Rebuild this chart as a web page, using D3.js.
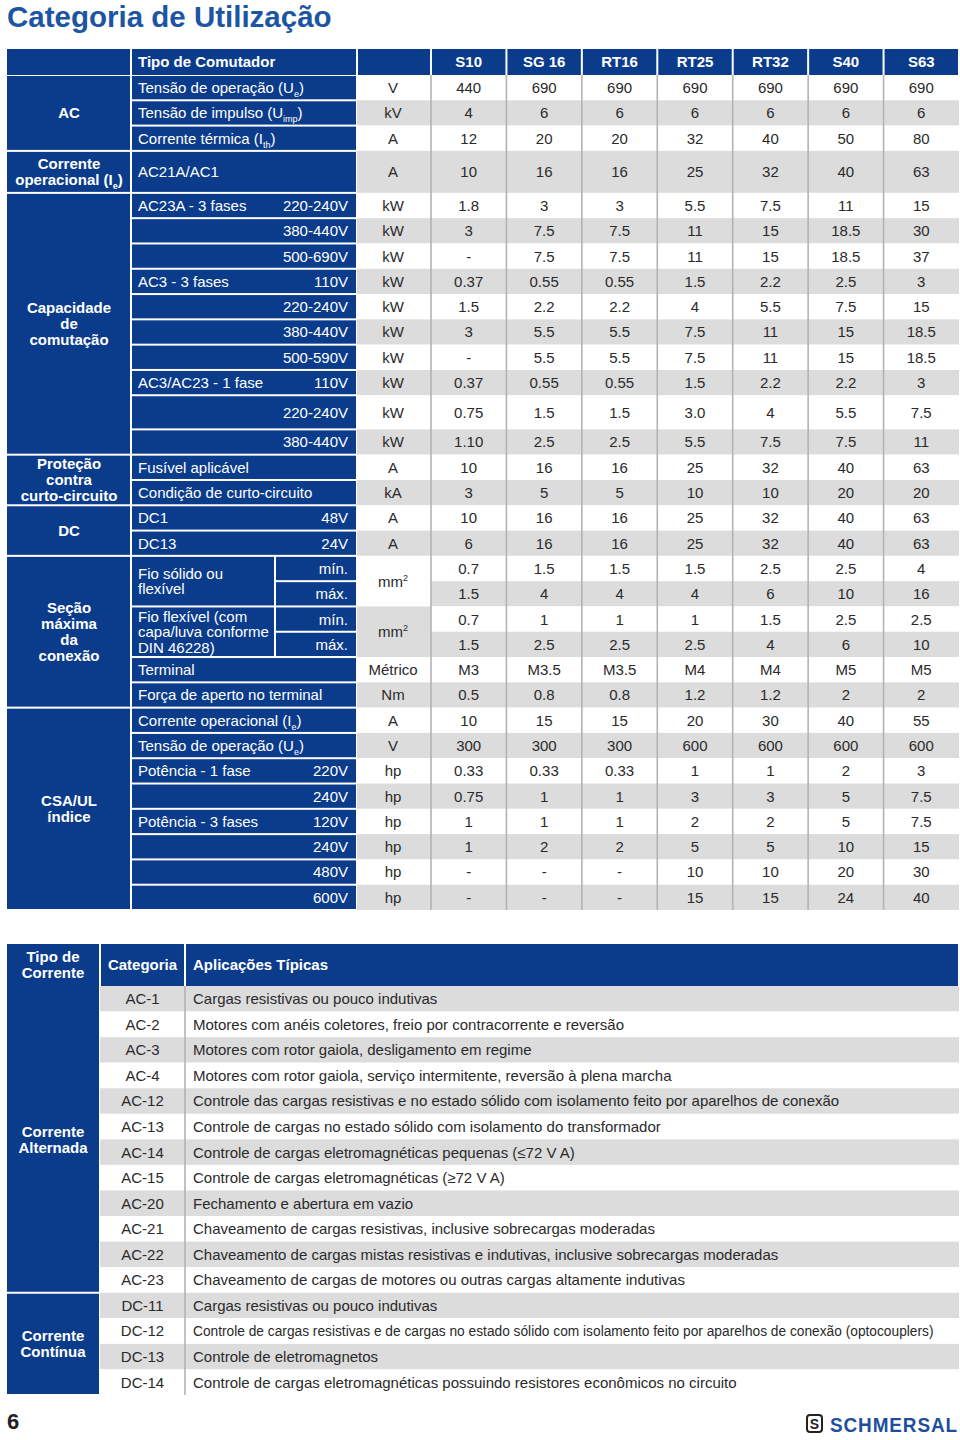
<!DOCTYPE html>
<html>
<head>
<meta charset="utf-8">
<script src="https://cdn.jsdelivr.net/npm/d3@7"></script>
<style>
  body { margin: 0; background: #fff; }
  svg { display: block; }
  text { font-family: "Liberation Sans", Arial, Helvetica, sans-serif; }
</style>
</head>
<body>
<div id="chart"></div>
<script>
// ---- data: top table ----
const switchTypes = ["S10", "SG 16", "RT16", "RT25", "RT32", "S40", "S63"];

const groupNames = ["AC", "Corrente|operacional (I_{e})", "Capacidade|de|comutação",
  "Proteção|contra|curto-circuito", "DC", "Seção|máxima|da|conexão", "CSA/UL|índice"];
const groupSizes = [3, 1, 10, 2, 2, 6, 8];

const specLabels = ["Tensão de operação (U_{e})", "Tensão de impulso (U_{imp})", "Corrente térmica (I_{th})",
  "AC21A/AC1", "AC23A - 3 fases", "", "", "AC3 - 3 fases", "", "", "", "AC3/AC23 - 1 fase", "", "",
  "Fusível aplicável", "Condição de curto-circuito", "DC1", "DC13",
  "Fio sólido ou|flexível", "", "Fio flexível (com|capa/luva conforme|DIN 46228)", "",
  "Terminal", "Força de aperto no terminal",
  "Corrente operacional (I_{e})", "Tensão de operação (U_{e})", "Potência - 1 fase", "",
  "Potência - 3 fases", "", "", ""];

const specSubLabels = ["", "", "", "", "220-240V", "380-440V", "500-690V", "110V", "220-240V", "380-440V",
  "500-590V", "110V", "220-240V", "380-440V", "", "", "48V", "24V", "mín.", "máx.", "mín.", "máx.",
  "", "", "", "", "220V", "240V", "120V", "240V", "480V", "600V"];

const specUnits = ["V", "kV", "A", "A", "kW", "kW", "kW", "kW", "kW", "kW", "kW", "kW", "kW", "kW",
  "A", "kA", "A", "A", "mm^{2}", "", "mm^{2}", "", "Métrico", "Nm", "A", "V",
  "hp", "hp", "hp", "hp", "hp", "hp"];

const specValues = [
  ["440", "690", "690", "690", "690", "690", "690"],
  ["4", "6", "6", "6", "6", "6", "6"],
  ["12", "20", "20", "32", "40", "50", "80"],
  ["10", "16", "16", "25", "32", "40", "63"],
  ["1.8", "3", "3", "5.5", "7.5", "11", "15"],
  ["3", "7.5", "7.5", "11", "15", "18.5", "30"],
  ["-", "7.5", "7.5", "11", "15", "18.5", "37"],
  ["0.37", "0.55", "0.55", "1.5", "2.2", "2.5", "3"],
  ["1.5", "2.2", "2.2", "4", "5.5", "7.5", "15"],
  ["3", "5.5", "5.5", "7.5", "11", "15", "18.5"],
  ["-", "5.5", "5.5", "7.5", "11", "15", "18.5"],
  ["0.37", "0.55", "0.55", "1.5", "2.2", "2.2", "3"],
  ["0.75", "1.5", "1.5", "3.0", "4", "5.5", "7.5"],
  ["1.10", "2.5", "2.5", "5.5", "7.5", "7.5", "11"],
  ["10", "16", "16", "25", "32", "40", "63"],
  ["3", "5", "5", "10", "10", "20", "20"],
  ["10", "16", "16", "25", "32", "40", "63"],
  ["6", "16", "16", "25", "32", "40", "63"],
  ["0.7", "1.5", "1.5", "1.5", "2.5", "2.5", "4"],
  ["1.5", "4", "4", "4", "6", "10", "16"],
  ["0.7", "1", "1", "1", "1.5", "2.5", "2.5"],
  ["1.5", "2.5", "2.5", "2.5", "4", "6", "10"],
  ["M3", "M3.5", "M3.5", "M4", "M4", "M5", "M5"],
  ["0.5", "0.8", "0.8", "1.2", "1.2", "2", "2"],
  ["10", "15", "15", "20", "30", "40", "55"],
  ["300", "300", "300", "600", "600", "600", "600"],
  ["0.33", "0.33", "0.33", "1", "1", "2", "3"],
  ["0.75", "1", "1", "3", "3", "5", "7.5"],
  ["1", "1", "1", "2", "2", "5", "7.5"],
  ["1", "2", "2", "5", "5", "10", "15"],
  ["-", "-", "-", "10", "10", "20", "30"],
  ["-", "-", "-", "15", "15", "24", "40"]
];

// ---- data: bottom table ----
const currentTypes = ["Corrente|Alternada", "Corrente|Contínua"];
const currentTypeSizes = [12, 4];
const categories = ["AC-1", "AC-2", "AC-3", "AC-4", "AC-12", "AC-13", "AC-14", "AC-15", "AC-20",
  "AC-21", "AC-22", "AC-23", "DC-11", "DC-12", "DC-13", "DC-14"];
const applications = [
  "Cargas resistivas ou pouco indutivas",
  "Motores com anéis coletores, freio por contracorrente e reversão",
  "Motores com rotor gaiola, desligamento em regime",
  "Motores com rotor gaiola, serviço intermitente, reversão à plena marcha",
  "Controle das cargas resistivas e no estado sólido com isolamento feito por aparelhos de conexão",
  "Controle de cargas no estado sólido com isolamento do transformador",
  "Controle de cargas eletromagnéticas pequenas (≤72 V A)",
  "Controle de cargas eletromagnéticas (≥72 V A)",
  "Fechamento e abertura em vazio",
  "Chaveamento de cargas resistivas, inclusive sobrecargas moderadas",
  "Chaveamento de cargas mistas resistivas e indutivas, inclusive sobrecargas moderadas",
  "Chaveamento de cargas de motores ou outras cargas altamente indutivas",
  "Cargas resistivas ou pouco indutivas",
  "Controle de cargas resistivas e de cargas no estado sólido com isolamento feito por aparelhos de conexão (optocouplers)",
  "Controle de eletromagnetos",
  "Controle de cargas eletromagnéticas possuindo resistores econômicos no circuito"
];

// ---- styles ----
const BLUE = "#0b3c8c", GRAY = "#dcdcdd", SEP = "#b3b3b3", INK = "#2a2a2a";
const FS = 15, BASE = FS * 0.36;

const svg = d3.select("#chart").append("svg")
  .attr("width", 960).attr("height", 1440);

// text with _{sub} and ^{sup} pieces
function rich(textSel, str) {
  const parts = str.split(/(_\{[^}]*\}|\^\{[^}]*\})/).filter(p => p);
  let shift = 0;
  parts.forEach(p => {
    let target = 0, content = p, small = false;
    if (p.startsWith("_{")) { target = 4; content = p.slice(2, -1); small = true; }
    else if (p.startsWith("^{")) { target = -6; content = p.slice(2, -1); small = true; }
    const t = textSel.append("tspan").text(content);
    if (target - shift !== 0) t.attr("dy", target - shift);
    if (small) t.attr("font-size", "0.6em");
    shift = target;
  });
}

// one text, vertically centred on yc
function label(g, str, x, yc, anchor, weight, fill) {
  const t = g.append("text")
    .attr("x", x)
    .attr("y", yc + BASE)
    .attr("text-anchor", anchor)
    .attr("font-size", FS)
    .attr("font-weight", weight)
    .attr("fill", fill);
  rich(t, str);
  return t;
}

// several lines centred on yc
function lines(g, str, x, yc, lh, anchor, weight, fill) {
  const ls = str.split("|");
  ls.forEach((l, k) => label(g, l, x, yc + (k - (ls.length - 1) / 2) * lh, anchor, weight, fill));
}

function cell(g, x0, y0, x1, y1, fill) {
  g.append("rect").attr("x", x0 + 1).attr("y", y0 + 1)
    .attr("width", x1 - x0 - 2).attr("height", y1 - y0 - 2).attr("fill", fill);
}

// title
svg.append("text")
  .attr("x", 7).attr("y", 27)
  .attr("font-size", 29.5).attr("font-weight", "bold")
  .attr("fill", "#1c55a3")
  .text("Categoria de Utilização");

// ---- top table ----
const topG = svg.append("g");
const gx0 = 6, gx1 = 131, lx1 = 357, ux1 = 431, xR = 959, splitX = 275;
const headTop = 49, bodyTop = 75, bodyBottom = 910;

const x = d3.scaleBand().domain(switchTypes).range([ux1, xR]);

// row weights -> y scale
const rowWeights = specLabels.map((_, i) => i === 3 ? 1.66 : i === 12 ? 1.35 : 1);
const cum = [0];
rowWeights.forEach(w => cum.push(cum[cum.length - 1] + w));
const yScale = d3.scaleLinear().domain([0, cum[cum.length - 1]]).range([bodyTop, bodyBottom]);
const rowY0 = i => yScale(cum[i]);
const rowY1 = i => yScale(cum[i + 1]);
const rowYc = i => (rowY0(i) + rowY1(i)) / 2;

// header
const headYc = (headTop + bodyTop) / 2;
cell(topG, gx0, headTop - 1, gx1, bodyTop + 1, BLUE);
cell(topG, gx1, headTop - 1, lx1, bodyTop + 1, BLUE);
cell(topG, lx1, headTop - 1, ux1, bodyTop + 1, BLUE);
label(topG, "Tipo de Comutador", 138, headYc, "start", "bold", "#fff");
switchTypes.forEach(s => {
  cell(topG, x(s), headTop - 1, x(s) + x.bandwidth(), bodyTop + 1, BLUE);
  label(topG, s, x(s) + x.bandwidth() / 2, headYc, "middle", "bold", "#fff");
});

// data stripes
specValues.forEach((vals, i) => {
  topG.append("rect").attr("x", ux1).attr("y", rowY0(i))
    .attr("width", xR - ux1).attr("height", rowY1(i) - rowY0(i))
    .attr("fill", i % 2 ? GRAY : "#fff");
});

// unit cells (merged where the next unit is empty)
let unitIdx = 0;
specUnits.forEach((u, i) => {
  if (u === "") return;
  let j = i + 1;
  while (j < specUnits.length && specUnits[j] === "") j++;
  topG.append("rect").attr("x", lx1).attr("y", rowY0(i))
    .attr("width", ux1 - lx1).attr("height", rowY1(j - 1) - rowY0(i))
    .attr("fill", unitIdx % 2 ? GRAY : "#fff");
  label(topG, u, (lx1 + ux1) / 2 - 1, (rowY0(i) + rowY1(j - 1)) / 2, "middle", "normal", INK);
  unitIdx++;
});

// column separators
switchTypes.forEach(s => {
  topG.append("line").attr("x1", x(s)).attr("x2", x(s))
    .attr("y1", bodyTop).attr("y2", bodyBottom)
    .attr("stroke", SEP).attr("stroke-width", 1.6);
});

// values
specValues.forEach((vals, i) => {
  vals.forEach((v, k) => {
    label(topG, v, x(switchTypes[k]) + x.bandwidth() / 2, rowYc(i), "middle", "normal", INK);
  });
});

// label cells
specLabels.forEach((lab, i) => {
  const sub = specSubLabels[i];
  const split = sub === "mín." || sub === "máx.";
  if (split) {
    if (lab !== "") {
      cell(topG, gx1, rowY0(i), splitX, rowY1(i + 1), BLUE);
      lines(topG, lab, 138, (rowY0(i) + rowY1(i + 1)) / 2, 15.5, "start", "normal", "#fff");
    }
    cell(topG, splitX, rowY0(i), lx1, rowY1(i), BLUE);
    label(topG, sub, 348, rowYc(i), "end", "normal", "#fff");
    return;
  }
  cell(topG, gx1, rowY0(i), lx1, rowY1(i), BLUE);
  if (lab !== "") label(topG, lab, 138, rowYc(i), "start", "normal", "#fff");
  if (sub !== "") label(topG, sub, 348, rowYc(i), "end", "normal", "#fff");
});

// group cells
let gStart = 0;
groupNames.forEach((name, gi) => {
  const gEnd = gStart + groupSizes[gi];
  const y0 = rowY0(gStart), y1 = rowY1(gEnd - 1);
  cell(topG, gx0, y0, gx1, y1, BLUE);
  lines(topG, name, (gx0 + gx1) / 2 + 0.5, (y0 + y1) / 2, 16, "middle", "bold", "#fff");
  gStart = gEnd;
});

// ---- bottom table ----
const botG = svg.append("g");
const bx0 = 6, bx1 = 100, bx2 = 185, bHeadTop = 944, bBodyTop = 986, bBodyBottom = 1395;
const yb = d3.scaleBand().domain(categories).range([bBodyTop, bBodyBottom]);
const bHeadYc = (bHeadTop + bBodyTop) / 2;

cell(botG, bx0, bHeadTop - 1, bx1, bBodyTop + 1, BLUE);
cell(botG, bx1, bHeadTop - 1, bx2, bBodyTop + 1, BLUE);
cell(botG, bx2, bHeadTop - 1, xR, bBodyTop + 1, BLUE);
lines(botG, "Tipo de|Corrente", (bx0 + bx1) / 2, bHeadYc, 16, "middle", "bold", "#fff");
label(botG, "Categoria", (bx1 + bx2) / 2, bHeadYc, "middle", "bold", "#fff");
label(botG, "Aplicações Típicas", 193, bHeadYc, "start", "bold", "#fff");

categories.forEach((c, i) => {
  botG.append("rect").attr("x", bx1).attr("y", yb(c))
    .attr("width", xR - bx1).attr("height", yb.bandwidth())
    .attr("fill", i % 2 ? "#fff" : GRAY);
});
botG.append("line").attr("x1", bx2).attr("x2", bx2)
  .attr("y1", bBodyTop).attr("y2", bBodyBottom)
  .attr("stroke", SEP).attr("stroke-width", 1.6);

const maxW = 741;
categories.forEach((c, i) => {
  const yc = yb(c) + yb.bandwidth() / 2;
  label(botG, c, (bx1 + bx2) / 2, yc, "middle", "normal", INK);
  const t = botG.append("text").attr("x", 0).attr("y", 0)
    .attr("transform", `translate(193,${yc + BASE})`)
    .attr("font-size", FS).attr("fill", INK).text(applications[i]);
  const w = t.node().getComputedTextLength();
  if (w > maxW) t.attr("transform", `translate(193,${yc + BASE}) scale(${maxW / w},1)`);
});

let cStart = 0;
currentTypes.forEach((name, k) => {
  const cEnd = cStart + currentTypeSizes[k];
  const y0 = yb(categories[cStart]), y1 = yb(categories[cEnd - 1]) + yb.bandwidth();
  cell(botG, bx0, k === 0 ? y0 - 1 : y0, bx1, y1, BLUE);
  lines(botG, name, (bx0 + bx1) / 2, (y0 + y1) / 2, 16, "middle", "bold", "#fff");
  cStart = cEnd;
});

// ---- footer ----
svg.append("text").attr("x", 7).attr("y", 1429)
  .attr("font-size", 22).attr("font-weight", "bold").attr("fill", "#222").text("6");

const logo = svg.append("g");
logo.append("rect").attr("x", 807).attr("y", 1415).attr("width", 15).attr("height", 17).attr("rx", 3)
  .attr("fill", "none").attr("stroke", "#222").attr("stroke-width", 2);
logo.append("text").attr("x", 814.5).attr("y", 1429).attr("text-anchor", "middle")
  .attr("font-size", 14).attr("font-weight", "bold").attr("fill", "#222").text("S");
const brand = logo.append("text").attr("x", 0).attr("y", 0)
  .attr("font-family", "DejaVu Sans").attr("font-size", 21).attr("font-weight", "bold")
  .attr("fill", "#1d4f9c").attr("letter-spacing", 1)
  .text("SCHMERSAL");
const bw = brand.node().getComputedTextLength();
brand.attr("transform", `translate(830,1432) scale(${128 / bw},1)`);
</script>
</body>
</html>
